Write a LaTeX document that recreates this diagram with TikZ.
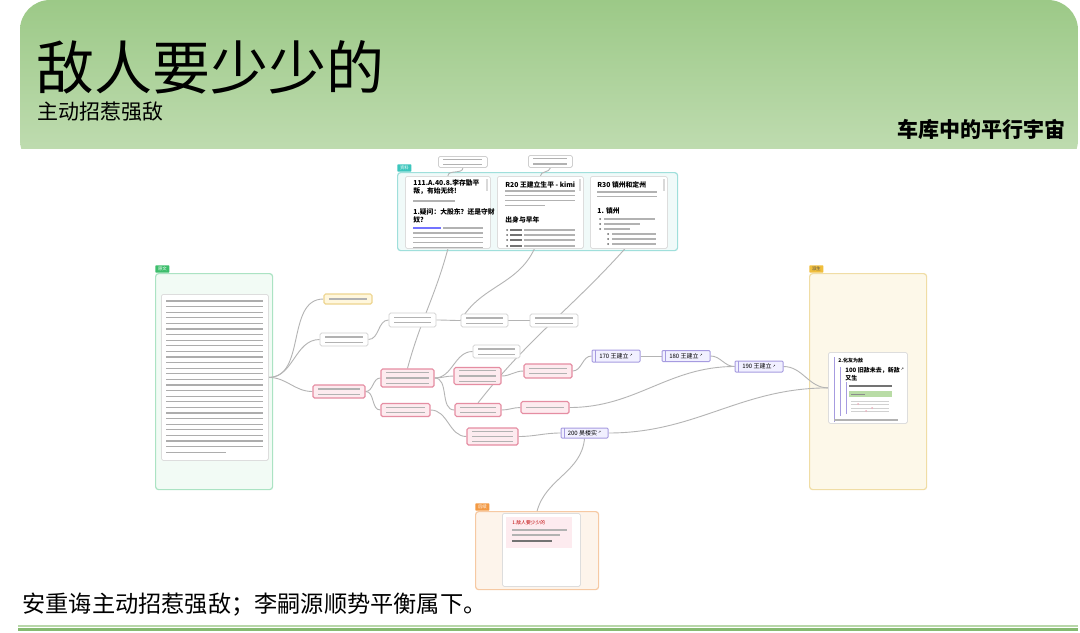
\documentclass[tikz,border=0pt]{standalone}
\usepackage{fontspec}
\setmainfont{Noto Sans CJK SC}
\newfontfamily\symfont{DejaVu Sans}
\usepackage{tikz}
\usetikzlibrary{positioning}

\definecolor{hdtop}{HTML}{9CC987}
\definecolor{hdbot}{HTML}{C3DEB5}
\definecolor{linkgray}{HTML}{B4B4B4}
\definecolor{rowgray}{HTML}{B2B2B2}
\definecolor{wline}{HTML}{CFCFCF}
\definecolor{pinkline}{HTML}{E58DA2}
\definecolor{pinkfill}{HTML}{FDEBEF}
\definecolor{yline}{HTML}{EED58F}
\definecolor{yfill}{HTML}{FFF7DD}
\definecolor{lavline}{HTML}{A69BE0}
\definecolor{lavfill}{HTML}{F1F0FF}
\definecolor{cyanline}{HTML}{9FDFDB}
\definecolor{cyanfill}{HTML}{F0FAF9}
\definecolor{cyantag}{HTML}{3CC6BD}
\definecolor{greenline}{HTML}{ABE3C3}
\definecolor{greenfill}{HTML}{F2FBF5}
\definecolor{greentag}{HTML}{3DBE6C}
\definecolor{yelline}{HTML}{F0DDA5}
\definecolor{yelfill}{HTML}{FDF8E9}
\definecolor{yeltag}{HTML}{F0BE3C}
\definecolor{orline}{HTML}{F6C9A3}
\definecolor{orfill}{HTML}{FDF4EB}
\definecolor{ortag}{HTML}{F39A45}
\definecolor{botlight}{HTML}{B8D7A9}
\definecolor{botdark}{HTML}{86BA70}
\definecolor{cardline}{HTML}{DDDDDD}
\definecolor{bandgreen}{HTML}{B9DCA6}

\pgfdeclarelayer{frames}
\pgfdeclarelayer{links}
\pgfsetlayers{frames,links,main}

\newcommand\rowset[5]{\foreach \r in {1,...,#4}{\draw[txtrow] (#1,{#2+(\r-1)*#5}) -- ++(#3,0);}}
\newcommand\linkmark{\,{\symfont\fontsize{1.8pt}{2pt}\selectfont\raisebox{0.9pt}{↗}}}

\tikzset{
  link/.style={draw=linkgray,line width=0.45pt},
  txtrow/.style={draw=rowgray,line width=0.6pt},
  darkrow/.style={draw=black!55,line width=0.6pt},
  rows/.style={path picture={\foreach \k in {1,...,#1}
      \draw[txtrow] ([shift={(2.5pt,{-(\k-(#1+1)/2)*2.6pt})}]path picture bounding box.west)
        -- ([shift={(-2.5pt,{-(\k-(#1+1)/2)*2.6pt})}]path picture bounding box.east);}},
  wnode/.style={draw=wline,fill=white,line width=0.4pt,rounded corners=0.8pt,inner sep=0pt},
  pnode/.style={draw=pinkline,fill=pinkfill,line width=0.6pt,rounded corners=0.8pt,inner sep=0pt},
  ynode/.style={draw=yline,fill=yfill,line width=0.6pt,rounded corners=0.8pt,inner sep=0pt},
  lnode/.style={draw=lavline,fill=lavfill,line width=0.5pt,rounded corners=0.5pt,inner sep=0pt,
    font=\fontsize{3pt}{3.6pt}\selectfont,
    path picture={\draw[lavline,line width=0.4pt] ([xshift=1.6pt]path picture bounding box.north west)
      -- ([xshift=1.6pt]path picture bounding box.south west);}},
  grp/.style 2 args={draw=#1,fill=#2,line width=0.6pt,rounded corners=1.5pt,anchor=north west,inner sep=0pt},
  tag/.style={anchor=south west,inner sep=0.6pt,minimum width=7pt,minimum height=3.6pt,
    font=\fontsize{2.2pt}{2.6pt}\selectfont,text=white,rounded corners=0.3pt},
  card/.style={draw=cardline,fill=white,line width=0.4pt,rounded corners=0.8pt,anchor=north west,inner sep=0pt},
  hd/.style={anchor=north west,inner sep=0pt,align=left,font=\fontsize{3.4pt}{4pt}\selectfont\bfseries}
}

\begin{document}
\begin{tikzpicture}[x=0.5pt,y=-0.5pt]
\useasboundingbox (0,0) rectangle (1080,632);

\begin{scope}
\clip (0,0) rectangle (1080,148);
\shade[top color=hdtop,bottom color=hdbot,rounded corners=15pt] (20,0) rectangle (1078,170);
\end{scope}
\node[anchor=base west,inner sep=0pt,font=\fontsize{29pt}{30pt}\selectfont] (title) at (36,89) {敌人要少少的};
\node[anchor=base west,inner sep=0pt,font=\fontsize{10.5pt}{12pt}\selectfont] (subtitle) at (37,119) {主动招惹强敌};
\node[anchor=base east,inner sep=0pt,font=\fontsize{10.5pt}{12pt}\selectfont\bfseries] (series) at (1066,137) {车库中的平行宇宙};

\begin{pgfonlayer}{frames}
\fill[white] (0,148) rectangle (1080,632);
\node[grp={cyanline}{cyanfill},minimum width=140pt,minimum height=39pt] (refs) at (397,172) {};
\node[grp={greenline}{greenfill},minimum width=58.5pt,minimum height=108pt] (orig) at (155,273) {};
\node[grp={yelline}{yelfill},minimum width=58.5pt,minimum height=108pt] (deriv) at (809,273) {};
\node[grp={orline}{orfill},minimum width=61.5pt,minimum height=39pt] (fut) at (475,511) {};
\end{pgfonlayer}
\node[tag,fill=cyantag] (tagrefs) at (refs.north west) {资料};
\node[tag,fill=greentag] (tagorig) at (orig.north west) {原文};
\node[tag,fill=yeltag,text=black!70] (tagderiv) at (deriv.north west) {派生};
\node[tag,fill=ortag] (tagfut) at (fut.north west) {后续};

\node[wnode,rows=2,minimum width=24.5pt,minimum height=5.5pt,anchor=north west] (b1) at (438,156) {};
\node[wnode,rows=2,minimum width=22pt,minimum height=6pt,anchor=north west] (b2) at (528,155) {};

\node[card,minimum width=42.5pt,minimum height=36pt] (c1) at (405,176) {};
\node[card,minimum width=43pt,minimum height=36pt] (c2) at (497,176) {};
\node[card,minimum width=38.5pt,minimum height=36pt] (c3) at (590,176) {};
\foreach \sx in {486,579,663} \fill[black!15] (\sx,179) rectangle ++(2,12);

\node[hd] (t1) at (413,179) {111.A.40.8.李存勖平\\叛，有始无终!};
\rowset{413}{201}{42}{1}{5}
\node[hd] (q1) at (413,208) {1.疑问：大股东？还是守财\\奴?};
\draw[blue!55,line width=0.6pt] (413,228) -- ++(28,0);
\rowset{443}{228}{40}{1}{5}
\rowset{413}{233}{70}{4}{4.8}

\node[hd] (t2) at (505,181) {R20 王建立生平 - kimi};
\rowset{505}{191}{70}{3}{4.8}
\rowset{505}{205.4}{40}{1}{5}
\node[hd] (s2) at (505,216) {出身与早年};
\foreach \by in {230,235,240,246} {
  \fill[black!60] (507,\by) circle (0.5pt);
  \draw[darkrow] (510,\by) -- ++(12,0);
  \draw[txtrow] (524,\by) -- (575,\by);
}

\node[hd] (t3) at (597,181) {R30 镇州和定州};
\rowset{597}{192}{60}{2}{4.6}
\node[hd] (s3) at (597,207) {1. 镇州};
\foreach \by/\bl in {219/51,224/36,229/26} {
  \fill[black!60] (600,\by) circle (0.5pt);
  \draw[txtrow] (604,\by) -- ++(\bl,0);
}
\foreach \by in {234,239,244} {
  \fill[black!60] (608,\by) circle (0.5pt);
  \draw[txtrow] (612,\by) -- (656,\by);
}

\node[card,minimum width=53.5pt,minimum height=83pt] (src) at (161,294) {};
\begin{scope}[txtrow/.append style={line width=0.65pt,draw=black!32}]
\rowset{166}{301}{97}{27}{5.6}
\rowset{166}{452.2}{60}{1}{5}
\end{scope}

\node[card,minimum width=39.5pt,minimum height=35.5pt] (der) at (828,352) {};
\draw[lavline,line width=0.5pt] (834,357) -- (834,422);
\node[anchor=north west,inner sep=0pt,font=\fontsize{2.5pt}{3pt}\selectfont\bfseries] (dtitle) at (838,358) {2.化友为敌};
\draw[lavline,line width=0.5pt] (840,367) -- (840,416);
\node[anchor=north west,inner sep=0pt,align=left,font=\fontsize{3pt}{3.8pt}\selectfont\bfseries] (dsub) at (845,367) {100 旧敌未去，新敌\linkmark\\又生};
\draw[lavline,line width=0.5pt] (846,382) -- (846,414);
\draw[darkrow] (849,386) -- ++(43,0);
\fill[bandgreen] (849,391) rectangle (892,397);
\draw[draw=black!45,line width=0.4pt] (851,394) -- ++(14,0);
\begin{scope}[txtrow/.append style={draw=black!18,line width=0.4pt}]
\rowset{851}{401}{38}{4}{3.6}
\end{scope}
\foreach \px/\py in {858/404,872/408,866/411} \fill[pinkline!70] (\px,\py) circle (0.5pt);
\rowset{834}{420}{64}{1}{5}

\node[card,minimum width=39pt,minimum height=36.5pt] (fc) at (502,513) {};
\fill[pinkfill] (506,517) rectangle (572,548);
\node[anchor=north west,inner sep=0pt,text=red!75!black,font=\fontsize{2.4pt}{3pt}\selectfont] (ft) at (512,520) {1.敌人要少少的};
\rowset{512}{530}{55}{1}{5}
\rowset{512}{535}{48}{1}{5}
\draw[darkrow] (512,541) -- ++(40,0);

\node[ynode,rows=1,minimum width=24pt,minimum height=5pt] (n1) at (348,299) {};
\node[wnode,rows=2,minimum width=24pt,minimum height=6.5pt] (n2) at (344,339.5) {};
\node[pnode,rows=2,minimum width=26pt,minimum height=6.5pt] (n3) at (339,391.5) {};
\node[wnode,rows=2,minimum width=23.5pt,minimum height=7pt] (n4) at (412.5,320) {};
\node[wnode,rows=2,minimum width=23.5pt,minimum height=6.5pt] (n5) at (484.5,320.5) {};
\node[wnode,rows=2,minimum width=24pt,minimum height=6.5pt] (n6) at (554,320.5) {};
\node[pnode,rows=3,minimum width=26.5pt,minimum height=9pt] (n7) at (407.5,378) {};
\node[pnode,rows=2,minimum width=24.5pt,minimum height=6.5pt] (n8) at (405.5,410) {};
\node[wnode,rows=2,minimum width=23.5pt,minimum height=6.5pt] (n9) at (496.5,351.5) {};
\node[pnode,rows=3,minimum width=23.5pt,minimum height=8.5pt] (n10) at (477.5,376) {};
\node[pnode,rows=2,minimum width=23pt,minimum height=6.5pt] (n11) at (478,410) {};
\node[pnode,rows=3,minimum width=25.5pt,minimum height=8.5pt] (n12) at (492.5,436.5) {};
\node[pnode,rows=2,minimum width=24pt,minimum height=7pt] (n13) at (548,371) {};
\node[pnode,rows=1,minimum width=24pt,minimum height=6pt] (n14) at (545,407.5) {};

\node[lnode,minimum width=24pt,minimum height=6pt] (L170) at (616,356) {170 王建立\linkmark};
\node[lnode,minimum width=24pt,minimum height=5.5pt,right=10.5pt of L170] (L180) {180 王建立\linkmark};
\node[lnode,minimum width=24pt,minimum height=5.5pt] (L190) at (759,366.5) {190 王建立\linkmark};
\node[lnode,minimum width=23.5pt,minimum height=5pt] (L200) at (584.5,433) {200 昊楼实\linkmark};

\begin{pgfonlayer}{links}
\draw[link] (b1.south) to[out=-90,in=90] (c1.north);
\draw[link] (b2.south) to[out=-100,in=90] (c2.north);
\draw[link] (c1.south) to[out=-105,in=75] (n7.north);
\draw[link] ([xshift=-3pt]c2.south) to[out=-115,in=60] (n5.west);
\draw[link] ([xshift=-2pt]c3.south) to[out=-132,in=52] (n11.north);
\draw[link] (src.east) to[out=0,in=180] (n1.west);
\draw[link] (src.east) to[out=0,in=180] (n2.west);
\draw[link] (src.east) to[out=0,in=180] (n3.west);
\draw[link] (n2.east) to[out=0,in=180] (n4.west);
\draw[link] (n4.east) to[out=0,in=180] (n5.west);
\draw[link] (n5.east) to[out=0,in=180] (n6.west);
\draw[link] (n3.east) to[out=0,in=180] (n7.west);
\draw[link] (n3.east) to[out=0,in=180] (n8.west);
\draw[link] (n7.east) to[out=0,in=180] (n9.west);
\draw[link] (n7.east) to[out=0,in=180] (n10.west);
\draw[link] (n7.east) to[out=0,in=180] (n11.west);
\draw[link] (n8.east) to[out=0,in=180] (n12.west);
\draw[link] (n10.east) to[out=0,in=180] (n13.west);
\draw[link] (n13.east) to[out=0,in=180] (L170.west);
\draw[link] (L170.east) -- (L180.west);
\draw[link] (L180.east) to[out=0,in=180] (L190.west);
\draw[link] (n11.east) to[out=0,in=180] (n14.west);
\draw[link] (n14.east) to[out=0,in=180] (L190.west);
\draw[link] (n12.east) to[out=0,in=180] (L200.west);
\draw[link] (L190.east) to[out=0,in=180] (der.west);
\draw[link] (L200.east) to[out=0,in=180] (der.west);
\draw[link] (L200.south) to[out=-95,in=75] (fut.north);
\end{pgfonlayer}

\node[anchor=base west,inner sep=0pt,font=\fontsize{11.6pt}{13pt}\selectfont] (caption) at (22,612) {安重诲主动招惹强敌；李嗣源顺势平衡属下。};
\draw[botlight,line width=1pt] (18,626) -- (1078,626);
\draw[botdark,line width=1.3pt] (18,629.5) -- (1078,629.5);
\end{tikzpicture}
\end{document}
